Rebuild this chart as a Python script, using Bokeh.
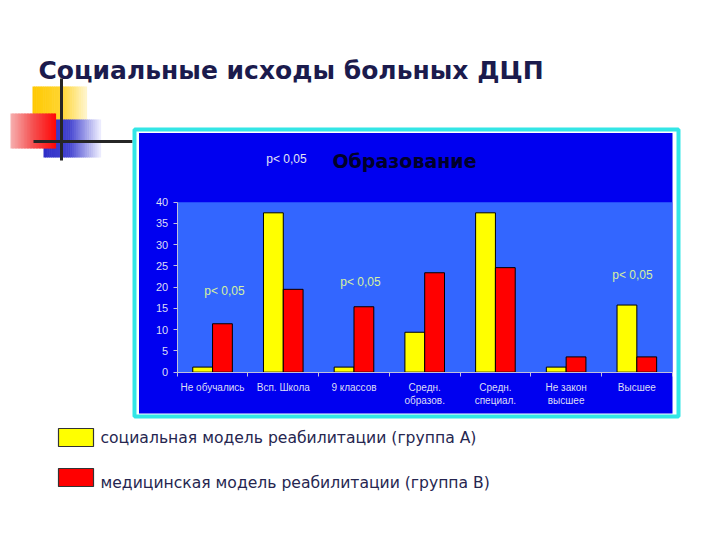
import numpy as np
from bokeh.plotting import figure
from bokeh.models import Range1d, LinearAxis, FixedTicker, ColumnDataSource
from bokeh.transform import dodge
from bokeh.core.properties import value
from bokeh.embed import file_html
from bokeh.resources import INLINE

# ---------------- data ----------------
categories = ["Не обучались", "Всп. Школа", "9 классов", "Средн.\nобразов.",
              "Средн.\nспециал.", "Не закон\nвысшее", "Высшее"]
group_a = [1.2, 37.5, 1.2, 9.4, 37.5, 1.2, 15.8]     # социальная модель (группа А)
group_b = [11.4, 19.5, 15.4, 23.4, 24.6, 3.6, 3.6]   # медицинская модель (группа В)
y_ticks = [0, 5, 10, 15, 20, 25, 30, 35, 40]
series_names = ["социальная модель реабилитации (группа А)",
                "медицинская модель реабилитации (группа В)"]
main_title = "Социальные исходы больных ДЦП"
chart_title = "Образование"
p_text = "p< 0,05"

# ---------------- layout constants (pixels) ----------------
W, H = 720, 540
PL, PR, PT, PB = 176.7, 671.7, 201.7, 371.7   # plot area box
n = len(categories)
sx = (PR - PL) / n
x0 = -0.5 - PL / sx
sy = (PB - PT) / y_ticks[-1]
y0 = -(H - PB) / sy

p = figure(width=W, height=H, x_range=Range1d(x0, x0 + W / sx),
           y_range=Range1d(y0, y0 + H / sy), output_backend="svg",
           toolbar_location=None, x_axis_location=None, y_axis_location=None,
           min_border=0, outline_line_color=None,
           background_fill_color="white", border_fill_color="white")
p.grid.grid_line_color = None
p.extra_x_ranges = {"px": Range1d(0, W)}
p.extra_y_ranges = {"px": Range1d(H, 0)}
PX = dict(x_range_name="px", y_range_name="px")


def hexmix(c0, c1, t):
    a = np.array([int(c0[i:i + 2], 16) for i in (1, 3, 5)], float)
    b = np.array([int(c1[i:i + 2], 16) for i in (1, 3, 5)], float)
    c = a + (b - a) * t
    return "#%02x%02x%02x" % tuple(int(round(v)) for v in c)


def gradient(left, right, top, bottom, stops, steps=30):
    xs = np.linspace(left, right, steps + 1)
    cols = []
    for k in range(steps):
        t = (k + 0.5) / steps
        for j in range(len(stops) - 1):
            t0, c0 = stops[j]
            t1, c1 = stops[j + 1]
            if t0 <= t <= t1:
                cols.append(hexmix(c0, c1, (t - t0) / (t1 - t0)))
                break
    p.quad(left=xs[:-1], right=xs[1:] + 0.6, top=top, bottom=bottom,
           fill_color=cols, line_color=None, **PX)


# decorative squares
gradient(32, 86, 86, 130, [(0, "#ffc800"), (0.55, "#ffd633"), (1, "#fff6d0")])
gradient(43, 100, 119, 157, [(0, "#2e2ec8"), (0.45, "#4444d0"), (1, "#f0f0ff")])
gradient(10, 55, 113, 148, [(0, "#f6b0b0"), (0.5, "#f55050"), (1, "#ff0808")])
# lines
p.segment(x0=[33, 61], y0=[141, 78], x1=[132, 61], y1=[141, 160],
          line_color="#262626", line_width=3, **PX)

# chart panel
p.quad(left=134, right=678, top=129, bottom=416, fill_color=None,
       line_color="#33e6e6", line_width=4, **PX)
p.quad(left=138.5, right=672, top=132.5, bottom=413, fill_color="#0000f0",
       line_color=None, **PX)

# plot area (data coordinates)
p.quad(left=-0.5, right=n - 0.5, bottom=0, top=y_ticks[-1],
       fill_color="#3366ff", line_color=None)

src = ColumnDataSource(dict(x=np.arange(n), a=group_a, b=group_b))
p.vbar(x=dodge("x", -0.14), top="a", width=0.28, source=src,
       fill_color="#ffff00", line_color="#000000", line_width=1)
p.vbar(x=dodge("x", 0.14), top="b", width=0.28, source=src,
       fill_color="#ff0000", line_color="#000000", line_width=1)

axis_txt = "#dcdcf5"
yax = LinearAxis(ticker=FixedTicker(ticks=y_ticks), fixed_location=-0.5,
                 bounds=(y_ticks[0], y_ticks[-1]))
yax.axis_line_color = "#c0c0dc"
yax.major_tick_line_color = "#c0c0dc"
yax.major_tick_out = 4
yax.major_tick_in = 0
yax.minor_tick_line_color = None
yax.major_label_text_color = axis_txt
yax.major_label_text_font = "Liberation Sans"
yax.major_label_text_font_size = "11px"
yax.major_label_standoff = 5
p.add_layout(yax, "left")

centers = list(range(n))
bounds_ticks = [i - 0.5 for i in range(n + 1)]
xax = LinearAxis(ticker=FixedTicker(ticks=centers, minor_ticks=bounds_ticks),
                 fixed_location=0, bounds=(-0.5, n - 0.5))
xax.major_label_overrides = {i: c for i, c in enumerate(categories)}
xax.axis_line_color = "#c0c0dc"
xax.major_tick_line_color = None
xax.minor_tick_line_color = "#c0c0dc"
xax.minor_tick_out = 4
xax.minor_tick_in = 0
xax.major_label_text_color = axis_txt
xax.major_label_text_font = "Liberation Sans"
xax.major_label_text_font_size = "10px"
xax.major_label_standoff = 4
p.add_layout(xax, "below")

# titles
p.text(x=[38], y=[70], text=[main_title], text_font=value("DejaVu Sans"),
       text_font_style="bold", text_font_size="25px", text_color="#1b1b4d",
       text_baseline="middle", **PX)
p.text(x=[404], y=[160], text=[chart_title], text_font=value("DejaVu Sans"),
       text_font_style="bold", text_font_size="19px", text_color="#00002a",
       text_align="center", text_baseline="middle", **PX)

# significance notes
p.text(x=[286], y=[158], text=[p_text], text_font=value("Liberation Sans"),
       text_font_size="12px", text_color="#e4e4f4", text_align="center",
       text_baseline="middle", **PX)
p.text(x=[224, 360, 632], y=[290.5, 281.5, 274], text=[p_text] * 3,
       text_font=value("Liberation Sans"), text_font_size="12px",
       text_color="#d6f0a0", text_align="center", text_baseline="middle", **PX)

# legend
p.quad(left=[58, 58], right=[93, 93], top=[428, 468], bottom=[446, 486],
       fill_color=["#ffff00", "#ff0000"], line_color="#333333", line_width=1.2,
       **PX)
p.text(x=[100, 100], y=[437.5, 482.5], text=series_names,
       text_font=value("DejaVu Sans"), text_font_size="15.6px",
       text_color="#262650", text_baseline="middle", **PX)

open("out.html", "w").write(file_html(p, INLINE))
